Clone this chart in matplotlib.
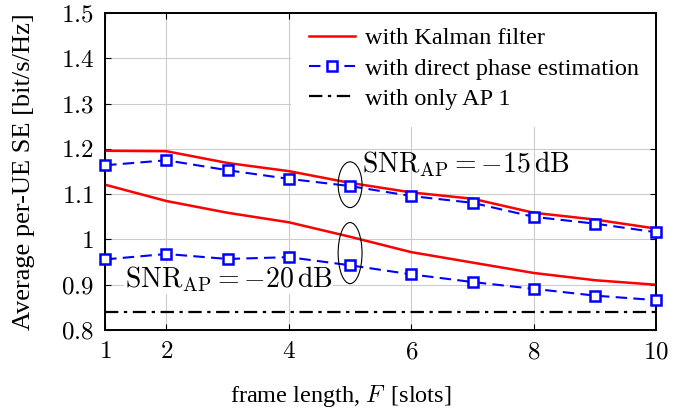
import matplotlib
matplotlib.use("Agg")
import matplotlib.pyplot as plt
from matplotlib.patches import Ellipse

plt.rcParams["font.family"] = ["Liberation Serif", "DejaVu Serif"]
plt.rcParams["mathtext.fontset"] = "cm"

# frame length (slots)
frames = [1, 2, 3, 4, 5, 6, 7, 8, 9, 10]

# SNR_AP = -15 dB
kalman_15 = [1.196, 1.195, 1.169, 1.151, 1.125, 1.104, 1.090, 1.059, 1.044, 1.024]
direct_15 = [1.164, 1.175, 1.153, 1.134, 1.118, 1.096, 1.081, 1.050, 1.035, 1.016]

# SNR_AP = -20 dB
kalman_20 = [1.121, 1.085, 1.059, 1.038, 1.006, 0.972, 0.949, 0.926, 0.910, 0.900]
direct_20 = [0.956, 0.968, 0.957, 0.961, 0.943, 0.923, 0.906, 0.891, 0.876, 0.866]

# only AP 1
only_ap1 = [0.84] * len(frames)

xticks = [1, 2, 4, 6, 8, 10]
yticks = [0.8, 0.9, 1.0, 1.1, 1.2, 1.3, 1.4, 1.5]
ytick_labels = ["0.8", "0.9", "1", "1.1", "1.2", "1.3", "1.4", "1.5"]

fig = plt.figure(figsize=(6.96, 4.11), dpi=100)
ax = fig.add_axes([0.151, 0.197, 0.792, 0.771])

ax.plot(frames, kalman_15, "-", color="red", linewidth=1.8, label="with Kalman filter")
ax.plot(frames, direct_15, "s--", color="blue", linewidth=1.5, markersize=7.5,
        markerfacecolor="white", markeredgewidth=1.8, dashes=(5.5, 3),
        label="with direct phase estimation", clip_on=False, zorder=4)
ax.plot(frames, kalman_20, "-", color="red", linewidth=1.8)
ax.plot(frames, direct_20, "s--", color="blue", linewidth=1.5, markersize=7.5,
        markerfacecolor="white", markeredgewidth=1.8, dashes=(5.5, 3),
        clip_on=False, zorder=4)
ax.plot(frames, only_ap1, color="black", linewidth=1.6,
        dashes=(6, 2.5, 1.5, 2.5), label="with only AP 1")

# ellipses at F = 5
ax.add_patch(Ellipse((5, 1.121), 0.39, 0.101, fill=False, edgecolor="black", linewidth=0.8, zorder=5))
ax.add_patch(Ellipse((5, 0.970), 0.39, 0.135, fill=False, edgecolor="black", linewidth=0.8, zorder=5))

ax.text(5.2, 1.148, r"$\mathrm{SNR}_{\mathrm{AP}} = -15\,\mathrm{dB}$", fontsize=20,
        va="baseline", ha="left")
ax.text(1.32, 0.894, r"$\mathrm{SNR}_{\mathrm{AP}} = -20\,\mathrm{dB}$", fontsize=20,
        va="baseline", ha="left",
        bbox=dict(facecolor="white", edgecolor="none", pad=0.3))

ax.set_xlim(1, 10)
ax.set_ylim(0.8, 1.5)
ax.set_xticks(xticks)
ax.set_xticklabels([f"${t}$" for t in xticks])
ax.set_yticks(yticks)
ax.set_yticklabels([f"${t}$" for t in ytick_labels])
ax.tick_params(direction="in", top=True, right=True, labelsize=18, length=4)
ax.tick_params(axis="x", pad=8)
ax.tick_params(axis="y", pad=8)
ax.grid(True, color="#cccccc", linewidth=0.8)
ax.set_axisbelow(True)
for s in ax.spines.values():
    s.set_linewidth(1.4)

ax.set_xlabel(r"frame length, $F\,$ [slots]", fontsize=17.5)
ax.xaxis.set_label_coords(0.428, -0.168)
ax.set_ylabel("Average per-UE SE [bit/s/Hz]", fontsize=19)
ax.yaxis.set_label_coords(-0.128, 0.5)

leg = ax.legend(loc="upper right", bbox_to_anchor=(1, 1.01), fontsize=17.5,
                frameon=True, fancybox=False, edgecolor="none", facecolor="white",
                framealpha=1, handlelength=1.9, borderaxespad=0,
                handletextpad=0.4, borderpad=0.72, labelspacing=0.33)
leg.set_zorder(2.3)

fig.savefig("out.png", dpi=100)
